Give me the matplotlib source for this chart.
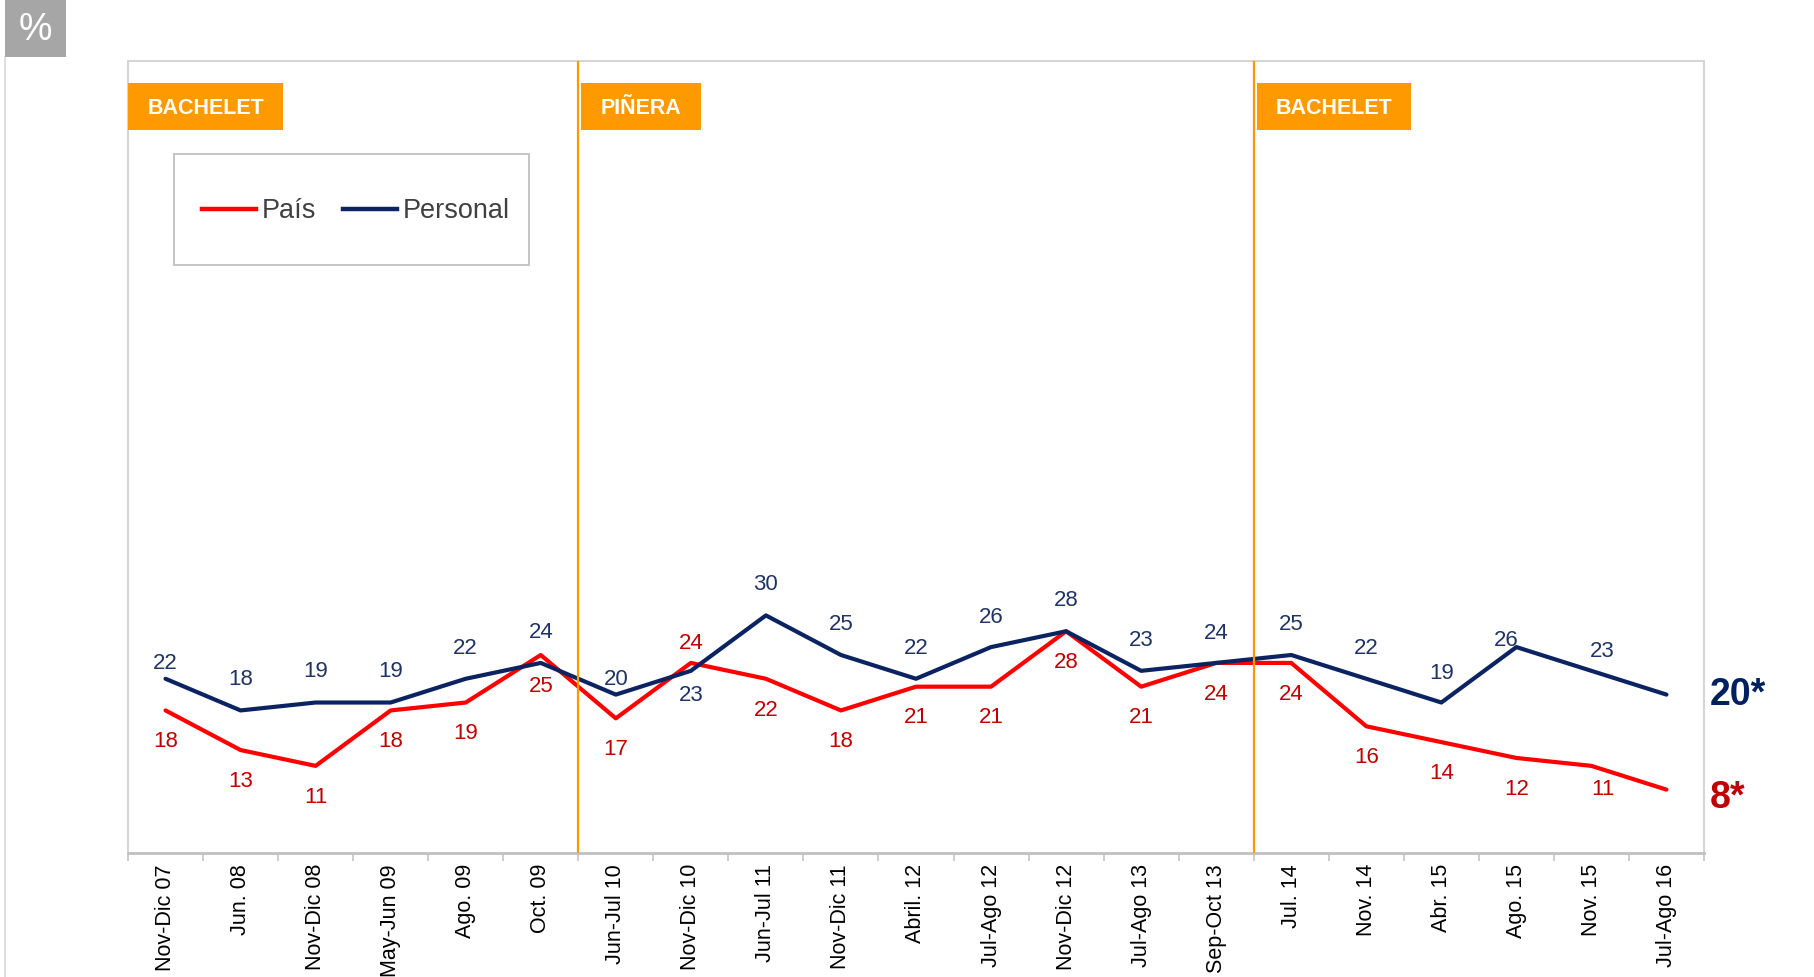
import matplotlib
matplotlib.use('Agg')
import matplotlib.pyplot as plt
import matplotlib.transforms as mtransforms
from matplotlib.patches import Rectangle
from matplotlib.lines import Line2D

plt.rcParams['font.family'] = ['Liberation Sans', 'DejaVu Sans']

# ---------------- data ----------------
categories = ["Nov-Dic 07", "Jun. 08", "Nov-Dic 08", "May-Jun 09", "Ago. 09", "Oct. 09",
              "Jun-Jul 10", "Nov-Dic 10", "Jun-Jul 11", "Nov-Dic 11", "Abril. 12", "Jul-Ago 12",
              "Nov-Dic 12", "Jul-Ago 13", "Sep-Oct 13", "Jul. 14", "Nov. 14", "Abr. 15",
              "Ago. 15", "Nov. 15", "Jul-Ago 16"]
pais = [18, 13, 11, 18, 19, 25, 17, 24, 22, 18, 21, 21, 28, 21, 24, 24, 16, 14, 12, 11, 8]
personal = [22, 18, 19, 19, 22, 24, 20, 23, 30, 25, 22, 26, 28, 23, 24, 25, 22, 19, 26, 23, 20]
periods = ["BACHELET", "PIÑERA", "BACHELET"]
period_first_index = [0, 6, 15]
last_pais_label = "8*"
last_personal_label = "20*"

# ---------------- styles / label placement ----------------
RED = '#FF0000'
RED_TXT = '#C00000'
NAVY = '#0B2461'
NAVY_TXT = '#1F3464'
ORANGE = '#FF9900'
tag_widths = [2.07, 1.6, 2.05]
pers_dy = [11, 22, 22, 22, 22, 22, 11, -18, 22, 22, 22, 21, 22, 22, 21, 22, 22, 21, 5, 14]
pers_dx = [0] * 18 + [-7, 8]
pais_dy = [-22.5] * 20
pais_dy[7] = 14
pais_dy[19] = -17
pais_dx = [0] * 19 + [8]

W, H = 1815, 977
fig = plt.figure(figsize=(W / 100, H / 100), dpi=100)
ax = fig.add_axes([128 / W, 1 - 853 / H, (1704 - 128) / W, (853 - 61) / H])

x = list(range(len(categories)))
ax.plot(x, pais, color=RED, lw=3.0, zorder=3, solid_capstyle='round')
ax.plot(x, personal, color=NAVY, lw=3.0, zorder=4, solid_capstyle='round')

ax.set_xlim(-0.5, len(categories) - 0.5)
ax.set_ylim(0, 100)

# data labels
for i in range(len(categories) - 1):
    ax.annotate(str(personal[i]), xy=(i, personal[i]), xytext=(pers_dx[i], pers_dy[i]),
                textcoords='offset points', ha='center', va='center',
                fontsize=16, color=NAVY_TXT, zorder=6)
    ax.annotate(str(pais[i]), xy=(i, pais[i]), xytext=(pais_dx[i], pais_dy[i]),
                textcoords='offset points', ha='center', va='center',
                fontsize=16, color=RED_TXT, zorder=6)

n = len(categories) - 1
ax.annotate(last_personal_label, xy=(n, personal[n]), xytext=(31, 0), textcoords='offset points',
            ha='left', va='center', fontsize=27, fontweight='bold', color='#002060',
            annotation_clip=False)
ax.annotate(last_pais_label, xy=(n, pais[n]), xytext=(31, -6), textcoords='offset points',
            ha='left', va='center', fontsize=27, fontweight='bold', color='#C00000',
            annotation_clip=False)

# government separators and tags
trans = mtransforms.blended_transform_factory(ax.transData, ax.transAxes)
for k, (name, start) in enumerate(zip(periods, period_first_index)):
    x0 = start - 0.5
    if k > 0:
        ax.axvline(x0, color=ORANGE, lw=1.6, zorder=5)
        x0 += 0.04
    rect = Rectangle((x0, 0.9135), tag_widths[k], 0.0587, transform=trans,
                     facecolor=ORANGE, edgecolor='none', zorder=6, clip_on=False)
    ax.add_patch(rect)
    ax.text(x0 + tag_widths[k] / 2, 0.9405, name, transform=trans, ha='center', va='center',
            fontsize=15.5, fontweight='bold', color='white', zorder=7)

# axes styling
ax.set_xticks(x)
ax.set_xticklabels(categories, rotation=90, fontsize=15.5, color='black')
ax.tick_params(axis='x', which='major', length=0, pad=8)
ax.set_xticks([i - 0.5 for i in range(len(categories) + 1)], minor=True)
ax.tick_params(axis='x', which='minor', length=6, width=1.3, color='#C8C8C8', direction='out')
ax.set_yticks([])
for side in ['left', 'right', 'top']:
    ax.spines[side].set_color('#D4D4D4')
    ax.spines[side].set_linewidth(1.4)
ax.spines['bottom'].set_color('#C0C0C0')
ax.spines['bottom'].set_linewidth(2)

# legend with its own frame
fig.patches.append(Rectangle((173.6 / W, 1 - 265 / H), (529 - 173.6) / W, 111 / H,
                             transform=fig.transFigure, facecolor='white',
                             edgecolor='#C0C0C0', lw=1.3, zorder=10))
handles = [Line2D([], [], color=RED, lw=3.2), Line2D([], [], color=NAVY, lw=3.2)]
leg = fig.legend(handles, ['País', 'Personal'], loc='center', ncol=2,
                 bbox_to_anchor=(356 / W, 1 - 211.5 / H), frameon=False, fontsize=19.5,
                 handlelength=2.0, handletextpad=0.2, columnspacing=1.0, labelcolor='#404040')
leg.set_zorder(11)

# percent badge and page border
fig.patches.append(Rectangle((5 / W, 1 - 57 / H), 61 / W, 57 / H, transform=fig.transFigure,
                             facecolor='#A6A6A6', edgecolor='none', zorder=10))
fig.text(35.5 / W, 1 - 30 / H, '%', ha='center', va='center', fontsize=27, color='white',
         zorder=11)
fig.add_artist(Line2D([5 / W, 5 / W], [0, 1 - 57 / H], transform=fig.transFigure,
                      color='#D9D9D9', lw=1.2))

fig.savefig('out.png', dpi=100, facecolor='white')
